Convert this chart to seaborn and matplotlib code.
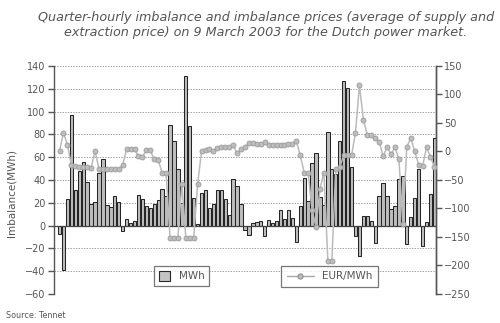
import numpy as np
import pandas as pd
import matplotlib
matplotlib.use("Agg")
import matplotlib.pyplot as plt
from matplotlib.patches import Patch
from matplotlib.lines import Line2D
import seaborn as sns

# ---- data (96 quarter-hours, 9 March 2003) ----
quarter = list(range(1, 97))
imbalance_mwh = [
    -7, -39, 23, 97, 31, 48, 56, 38, 19, 21,
    46, 58, 18, 16.5, 26, 21, -5, 6, 2, 4,
    27, 23, 17, 15, 18.5, 22, 32, 26, 88.6, 74.5,
    50, 20, 131, 87.7, 24, 1.5, 29, 31, 15, 18.5,
    31, 31, 23, 9, 41, 35, 18.5, -3.5, -8, 2.4,
    3.2, 4, -9, 4.7, 2.4, 3.8, 13.5, 6, 13.5, 6.8,
    -14, 17, 42, 21.5, 55, 64, 25, 18, 82, 50,
    45, 74, 127, 121, 51, -9.4, -27, 8, 8, 3.8,
    -15, 26, 37, 26, 14.5, 17, 41, 43.5, -16, 7.6,
    24.4, 50, -17.6, 3, 28, 77,
]
price_eur = [
    1, 33, 12, -24, -26, -27, -27, -27, -29, 1,
    -31, -31, -31, -31, -31, -31, -24, 4, 4, 4,
    -8, -9, 2, 2, -14, -15, -37, -37, -151, -151,
    -151, -57, -151, -151, -151, -57, 1, 3, 5, 1,
    6, 7, 7, 8, 11, -3.5, 4, 7, 15, 14,
    13, 13, 16, 12, 12, 11, 12, 12, 13, 13,
    19, -7, -37, -37, -103, -132, -65, -37, -192, -192,
    -31, -28, -7, -7, -7, 33, 116, 56, 29, 29,
    23, 17, -8, 7, -5, 7, -13, -127, 8, 23,
    0, -23, -26, 7, -9, -27,
]
left_ticks = list(range(-60, 141, 20))
right_ticks = list(range(-250, 151, 50))

title_text = ("Quarter-hourly imbalance and imbalance prices (average of supply and\n"
              "extraction price) on 9 March 2003 for the Dutch power market.")
ylabel_text = "Imbalance(MWh)"
source_text = "Source: Tennet"
bar_label = "MWh"
line_label = "EUR/MWh"

df = pd.DataFrame({"q": quarter, "mwh": imbalance_mwh, "eur": price_eur})
df["pos"] = np.arange(len(df))

# ---- style ----
sns.set_theme(style="white")
plt.rcParams["font.family"] = ["DejaVu Sans"]
txt = "#555555"
axc = "#555555"

fig = plt.figure(figsize=(5.0, 3.23), dpi=100)
ax = fig.add_axes([0.108, 0.0898, 0.764, 0.706])

sns.barplot(data=df, x="pos", y="mwh", ax=ax, color="#bdbdbd",
            edgecolor="#262626", linewidth=0.75, width=0.85, saturation=1,
            native_scale=True, zorder=3)

ax.set_ylim(-60, 140)
ax.set_xlim(-1.4, 95.4)
ax.set_yticks(left_ticks)
ax.set_xticks([])
ax.set_xlabel("")
ax.set_ylabel("")
for y in left_ticks:
    if y == 0:
        continue
    ax.axhline(y, color="#999999", lw=0.6, ls=(0, (1.8, 1.4)), zorder=1)
ax.axhline(0, color="#444444", lw=0.9, zorder=4)

for s in ["top", "bottom"]:
    ax.spines[s].set_visible(False)
for s in ["left", "right"]:
    ax.spines[s].set_color(axc)
    ax.spines[s].set_linewidth(1.0)
ax.tick_params(axis="y", direction="out", length=4, width=1.0, color=axc,
               labelcolor=txt, labelsize=7, pad=2, left=True)
ax.patch.set_alpha(0)

ax2 = ax.twinx()
sns.lineplot(data=df, x="pos", y="eur", ax=ax2, color="#bbbbbb", lw=1.1,
             marker="o", markersize=3.6, markerfacecolor="#bdbdbd",
             markeredgecolor="#9c9c9c", markeredgewidth=0.6, zorder=5)
ax2.set_ylim(-250, 150)
ax2.set_yticks(right_ticks)
ax2.set_xlim(-1.4, 95.4)
ax2.set_ylabel("")
ax2.set_xlabel("")
for s in ["top", "bottom", "left"]:
    ax2.spines[s].set_visible(False)
ax2.spines["right"].set_color(axc)
ax2.spines["right"].set_linewidth(1.0)
ax2.tick_params(axis="y", direction="out", length=4, width=1.0, color=axc,
                labelcolor=txt, labelsize=7, pad=2, right=True)
ax.set_zorder(1)
ax2.set_zorder(2)
ax2.patch.set_alpha(0)

# legends
h1 = [Patch(facecolor="#c4c4c4", edgecolor="#2a2a2a", linewidth=0.8)]
leg1 = fig.legend(h1, [bar_label], loc="center", bbox_to_anchor=(181.5 / 500, 1 - 276 / 323),
                  frameon=True, fancybox=False, fontsize=7.5, handlelength=1.1,
                  handleheight=1.1, borderpad=0.5, handletextpad=0.8, labelcolor=txt)
leg1.get_frame().set_edgecolor(axc)
leg1.get_frame().set_linewidth(0.9)
h2 = [Line2D([0], [0], color="#a8a8a8", lw=1.0, marker="o", markersize=3.6,
             markerfacecolor="#bdbdbd", markeredgecolor="#9c9c9c")]
leg2 = fig.legend(h2, [line_label], loc="center", bbox_to_anchor=(329.5 / 500, 1 - 276.5 / 323),
                  frameon=True, fancybox=False, fontsize=7.5, handlelength=2.6,
                  borderpad=0.5, handletextpad=0.8, labelcolor=txt)
leg2.get_frame().set_edgecolor(axc)
leg2.get_frame().set_linewidth(0.9)

fig.text(266 / 500, 1 - 25 / 323, title_text, ha="center", va="center",
         fontsize=9.2, style="italic", color=txt, linespacing=1.2)
fig.text(12 / 500, 1 - 193 / 323, ylabel_text, rotation=90, ha="center", va="center",
         fontsize=7.5, color=txt)
fig.text(6 / 500, 1 - 315 / 323, source_text, ha="left", va="center",
         fontsize=5.8, color=txt)

fig.savefig("out.png", dpi=100)
